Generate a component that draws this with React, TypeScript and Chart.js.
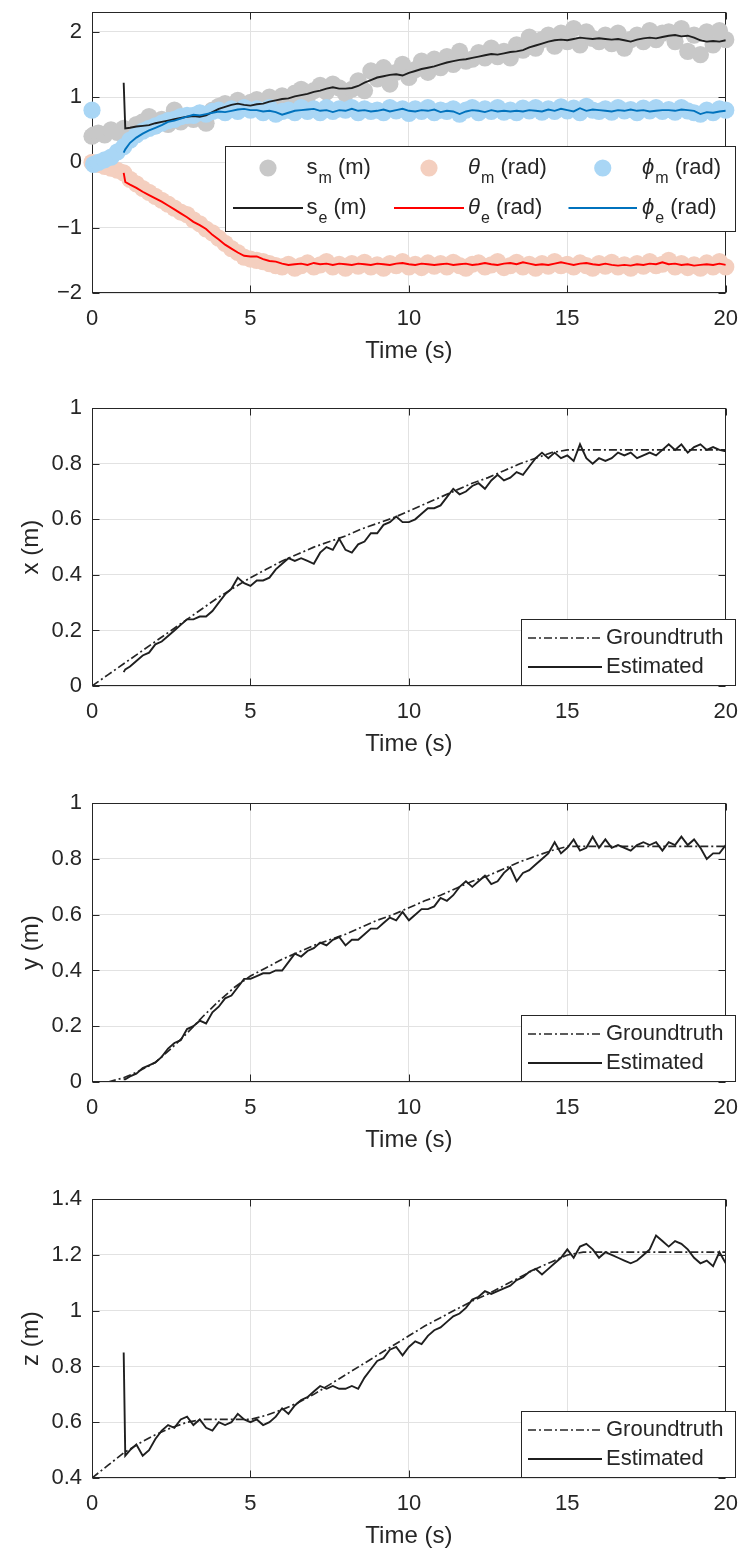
import React, { useEffect, useRef } from 'react';
import { Chart, registerables } from 'chart.js';
Chart.register(...registerables);

const FONT = "'Liberation Sans', Arial, Helvetica, sans-serif";
const INK = '#262626';
const GRID = '#e2e2e2';

// ---------- time grids (x values) ----------
const T_MEAS = [0, 0.05, ...Array.from({ length: 100 }, (_, i) => +(0.2 + 0.2 * i).toFixed(2))];
const T_EST = [1.0, 1.05, ...Array.from({ length: 95 }, (_, i) => +(1.2 + 0.2 * i).toFixed(2))];
const T_GT = Array.from({ length: 41 }, (_, i) => i * 0.5);

const X_TICKS = [0, 5, 10, 15, 20];
const Y1_TICKS = [-2, -1, 0, 1, 2];
const Y2_TICKS = [0, 0.2, 0.4, 0.6, 0.8, 1];
const Y3_TICKS = [0, 0.2, 0.4, 0.6, 0.8, 1];
const Y4_TICKS = [0.4, 0.6, 0.8, 1, 1.2, 1.4];

// ---------- panel 1: measurements ----------
const S_MEAS = [0.40, 0.42,
  0.45, 0.42, 0.50, 0.46, 0.52,
  0.50, 0.58, 0.62, 0.70, 0.56,
  0.66, 0.58, 0.80, 0.62, 0.68,
  0.66, 0.75, 0.60, 0.80, 0.86,
  0.90, 0.82, 0.95, 0.86, 0.92,
  0.96, 0.85, 1.00, 0.92, 1.02,
  0.95, 1.06, 1.12, 1.00, 1.10,
  1.18, 1.08, 1.20, 1.14, 1.05,
  1.12, 1.25, 1.10, 1.40, 1.28,
  1.45, 1.20, 1.38, 1.50, 1.30,
  1.42, 1.55, 1.38, 1.58, 1.45,
  1.62, 1.50, 1.70, 1.55, 1.58,
  1.68, 1.60, 1.75, 1.62, 1.70,
  1.60, 1.80, 1.72, 1.92, 1.75,
  1.88, 1.95, 1.78, 1.98, 1.85,
  2.05, 1.80, 2.00, 1.90, 1.85,
  1.95, 1.82, 1.98, 1.75, 1.88,
  1.95, 1.85, 2.02, 1.88, 1.98,
  2.00, 1.85, 2.05, 1.70, 1.95,
  1.65, 2.00, 1.80, 2.02, 1.88];
const TH_MEAS = [0.00, -0.02,
  -0.03, -0.06, -0.09, -0.12, -0.16,
  -0.26, -0.33, -0.40, -0.46, -0.52,
  -0.58, -0.64, -0.70, -0.76, -0.80,
  -0.88, -0.94, -1.02, -1.08, -1.16,
  -1.24, -1.32, -1.38, -1.45, -1.48,
  -1.50, -1.52, -1.55, -1.58, -1.60,
  -1.56, -1.62, -1.58, -1.54, -1.60,
  -1.57, -1.52, -1.60, -1.56, -1.62,
  -1.55, -1.59, -1.53, -1.60, -1.57,
  -1.62, -1.55, -1.58, -1.52, -1.60,
  -1.56, -1.61, -1.54, -1.59, -1.55,
  -1.60, -1.53, -1.58, -1.62, -1.56,
  -1.54, -1.60, -1.57, -1.52, -1.61,
  -1.58, -1.53, -1.60, -1.56, -1.62,
  -1.55, -1.59, -1.52, -1.58, -1.56,
  -1.60, -1.54, -1.58, -1.62, -1.55,
  -1.59, -1.53, -1.60, -1.57, -1.62,
  -1.55, -1.59, -1.52, -1.58, -1.56,
  -1.50, -1.60, -1.55, -1.61, -1.57,
  -1.62, -1.54, -1.60, -1.52, -1.60];
const PHI_MEAS = [0.80, -0.03,
  0.00, 0.04, 0.08, 0.16, 0.24,
  0.34, 0.42, 0.48, 0.52, 0.56,
  0.60, 0.64, 0.66, 0.70, 0.72,
  0.72, 0.76, 0.74, 0.78, 0.80,
  0.76, 0.82, 0.78, 0.84, 0.80,
  0.82, 0.76, 0.84, 0.74, 0.78,
  0.80, 0.76, 0.84, 0.78, 0.82,
  0.76, 0.84, 0.78, 0.82, 0.80,
  0.84, 0.76, 0.82, 0.78, 0.80,
  0.76, 0.84, 0.79, 0.82, 0.75,
  0.82, 0.78, 0.84, 0.76, 0.80,
  0.78, 0.82, 0.74, 0.80, 0.84,
  0.76, 0.82, 0.78, 0.84, 0.77,
  0.80, 0.76, 0.83, 0.79, 0.84,
  0.77, 0.82, 0.78, 0.85, 0.79,
  0.83, 0.76, 0.86, 0.80, 0.78,
  0.82, 0.77, 0.84, 0.79, 0.81,
  0.76, 0.83, 0.79, 0.84, 0.78,
  0.81, 0.77, 0.84, 0.79, 0.76,
  0.74, 0.80, 0.76, 0.82, 0.80];

// ---------- panel 1: estimates ----------
const S_EST = [1.22, 0.52,
  0.53, 0.55, 0.56, 0.57, 0.60,
  0.62, 0.64, 0.66, 0.68, 0.70,
  0.71, 0.70, 0.72, 0.77, 0.82,
  0.85, 0.88, 0.90, 0.88, 0.87,
  0.89, 0.90, 0.93, 0.95, 0.97,
  0.98, 1.01, 1.03, 1.05, 1.08,
  1.10, 1.13, 1.15, 1.13, 1.13,
  1.14, 1.17, 1.22, 1.26, 1.30,
  1.32, 1.34, 1.35, 1.33, 1.37,
  1.40, 1.43, 1.45, 1.47, 1.50,
  1.53, 1.55, 1.57, 1.58, 1.60,
  1.62, 1.64, 1.66, 1.65, 1.67,
  1.69, 1.70, 1.72, 1.76, 1.79,
  1.82, 1.85, 1.87, 1.88, 1.87,
  1.89, 1.91, 1.90, 1.89, 1.90,
  1.89, 1.88, 1.89, 1.87, 1.85,
  1.88, 1.90, 1.91, 1.90, 1.92,
  1.94, 1.95, 1.93, 1.94, 1.91,
  1.87, 1.85, 1.86, 1.85, 1.87];
const TH_EST = [-0.16, -0.30,
  -0.34, -0.39, -0.45, -0.50, -0.55,
  -0.60, -0.66, -0.72, -0.78, -0.84,
  -0.91, -0.96, -1.02, -1.11, -1.18,
  -1.26, -1.32, -1.38, -1.43, -1.44,
  -1.44, -1.48, -1.51, -1.52, -1.55,
  -1.57, -1.56, -1.55, -1.57, -1.54,
  -1.56, -1.55, -1.57, -1.55, -1.56,
  -1.57, -1.55, -1.56, -1.57, -1.55,
  -1.56, -1.57, -1.55, -1.54, -1.56,
  -1.57, -1.55, -1.56, -1.57, -1.56,
  -1.55, -1.57, -1.56, -1.55, -1.57,
  -1.56, -1.54, -1.56, -1.57, -1.55,
  -1.54, -1.56, -1.53, -1.55, -1.57,
  -1.56, -1.57, -1.55, -1.53, -1.55,
  -1.57, -1.55, -1.54, -1.56, -1.57,
  -1.55, -1.57, -1.58, -1.57, -1.58,
  -1.56, -1.57, -1.55, -1.56, -1.53,
  -1.56, -1.55, -1.57, -1.56, -1.58,
  -1.57, -1.56, -1.57, -1.55, -1.57];
const PHI_EST = [0.15, 0.20,
  0.30, 0.38, 0.44, 0.49, 0.53,
  0.57, 0.62, 0.64, 0.67, 0.70,
  0.73, 0.72, 0.74, 0.76, 0.78,
  0.77, 0.79, 0.81, 0.82, 0.80,
  0.80, 0.78, 0.79, 0.77, 0.73,
  0.76, 0.79, 0.80, 0.81, 0.82,
  0.79, 0.80, 0.77, 0.80, 0.79,
  0.82, 0.79, 0.80, 0.78, 0.79,
  0.81, 0.78, 0.80, 0.82, 0.79,
  0.78, 0.80, 0.79, 0.81, 0.77,
  0.79, 0.78, 0.74, 0.78, 0.80,
  0.79, 0.77, 0.80, 0.78, 0.79,
  0.78, 0.79, 0.78, 0.80, 0.79,
  0.78, 0.81, 0.79, 0.82, 0.80,
  0.78, 0.83, 0.79, 0.81, 0.80,
  0.79, 0.78, 0.80, 0.79, 0.81,
  0.79, 0.80, 0.78, 0.79, 0.80,
  0.80, 0.79, 0.81, 0.80, 0.79,
  0.74, 0.77, 0.76, 0.78, 0.79];

// ---------- panels 2-4 ----------
const X_GT = [0, 0.04, 0.08, 0.12, 0.16, 0.20, 0.24, 0.28, 0.32, 0.355, 0.39, 0.42, 0.45, 0.475, 0.50, 0.52,
  0.54, 0.565, 0.585, 0.605, 0.63, 0.655, 0.68, 0.705, 0.73, 0.75, 0.775, 0.80, 0.82, 0.84, 0.85,
  0.85, 0.85, 0.85, 0.85, 0.85, 0.85, 0.85, 0.85, 0.85, 0.85];
const X_EST = [0.05, 0.06,
  0.07, 0.09, 0.11, 0.12, 0.15,
  0.16, 0.18, 0.20, 0.22, 0.24,
  0.24, 0.25, 0.25, 0.27, 0.30,
  0.33, 0.35, 0.39, 0.37, 0.36,
  0.38, 0.38, 0.39, 0.42, 0.44,
  0.46, 0.45, 0.46, 0.45, 0.44,
  0.48, 0.50, 0.49, 0.53, 0.49,
  0.48, 0.51, 0.52, 0.55, 0.55,
  0.58, 0.59, 0.61, 0.59, 0.59,
  0.60, 0.62, 0.64, 0.64, 0.65,
  0.68, 0.71, 0.69, 0.70, 0.72,
  0.73, 0.71, 0.74, 0.76, 0.74,
  0.75, 0.77, 0.76, 0.79, 0.82,
  0.84, 0.82, 0.84, 0.82, 0.83,
  0.81, 0.87, 0.82, 0.80, 0.82,
  0.81, 0.82, 0.84, 0.83, 0.84,
  0.82, 0.83, 0.84, 0.83, 0.85,
  0.87, 0.85, 0.87, 0.84, 0.86,
  0.87, 0.85, 0.86, 0.85, 0.845];
const Y_GT = [0, 0.0, 0.015, 0.04, 0.07, 0.12, 0.175, 0.235, 0.29, 0.34, 0.38, 0.41, 0.44, 0.465, 0.49, 0.51,
  0.53, 0.555, 0.58, 0.60, 0.625, 0.65, 0.67, 0.695, 0.72, 0.74, 0.765, 0.79, 0.81, 0.83, 0.845,
  0.845, 0.845, 0.845, 0.845, 0.845, 0.845, 0.845, 0.845, 0.845, 0.845];
const Y_EST = [0.01, 0.01,
  0.02, 0.03, 0.05, 0.06, 0.07,
  0.09, 0.12, 0.14, 0.15, 0.19,
  0.20, 0.22, 0.21, 0.25, 0.27,
  0.30, 0.31, 0.34, 0.37, 0.37,
  0.38, 0.39, 0.39, 0.40, 0.40,
  0.43, 0.46, 0.45, 0.47, 0.48,
  0.50, 0.49, 0.51, 0.52, 0.49,
  0.51, 0.51, 0.53, 0.55, 0.55,
  0.57, 0.59, 0.58, 0.61, 0.58,
  0.60, 0.62, 0.62, 0.63, 0.66,
  0.65, 0.67, 0.70, 0.72, 0.70,
  0.72, 0.74, 0.71, 0.72, 0.75,
  0.77, 0.72, 0.75, 0.76, 0.78,
  0.80, 0.82, 0.86, 0.82, 0.84,
  0.87, 0.83, 0.84, 0.88, 0.84,
  0.87, 0.84, 0.85, 0.84, 0.83,
  0.85, 0.86, 0.85, 0.86, 0.83,
  0.86, 0.85, 0.88, 0.85, 0.87,
  0.84, 0.80, 0.82, 0.82, 0.85];
const Z_GT = [0.40, 0.445, 0.49, 0.525, 0.555, 0.58, 0.60, 0.61, 0.61, 0.61, 0.61, 0.625, 0.645, 0.67, 0.70, 0.735,
  0.77, 0.805, 0.84, 0.875, 0.91, 0.945, 0.975, 1.005, 1.035, 1.06, 1.09, 1.12, 1.15, 1.175, 1.20, 1.21,
  1.21, 1.21, 1.21, 1.21, 1.21, 1.21, 1.21, 1.21, 1.21];
const Z_EST = [0.85, 0.48,
  0.50, 0.52, 0.48, 0.50, 0.54,
  0.57, 0.59, 0.58, 0.61, 0.62,
  0.59, 0.61, 0.58, 0.57, 0.60,
  0.59, 0.60, 0.63, 0.61, 0.60,
  0.61, 0.59, 0.60, 0.62, 0.65,
  0.63, 0.66, 0.68, 0.69, 0.71,
  0.73, 0.72, 0.73, 0.72, 0.72,
  0.73, 0.72, 0.76, 0.79, 0.82,
  0.83, 0.86, 0.87, 0.84, 0.87,
  0.89, 0.88, 0.91, 0.93, 0.94,
  0.96, 0.98, 0.99, 1.01, 1.04,
  1.05, 1.07, 1.06, 1.07, 1.08,
  1.09, 1.11, 1.12, 1.14, 1.15,
  1.13, 1.15, 1.17, 1.19, 1.22,
  1.19, 1.23, 1.24, 1.22, 1.19,
  1.21, 1.20, 1.19, 1.18, 1.17,
  1.18, 1.20, 1.22, 1.27, 1.25,
  1.23, 1.25, 1.24, 1.22, 1.19,
  1.17, 1.18, 1.16, 1.21, 1.17];

// ---------- styles & layout ----------
const C_GRAY = '#c8c8c8';
const C_SALMON = '#f4cfbf';
const C_LBLUE = '#a9d6f5';
const C_BLACK = '#1f1f1f';
const C_RED = '#ff0000';
const C_BLUE = '#0072bd';
const DASHDOT = [8, 3, 2, 3];
const MARKER_R = 8.6;
const EST_W = 1.9;
const GT_W = 1.7;

const PLOT_LEFT = 92;
const PLOT_RIGHT = 736;
const PAGE_W = 751;
const PAD_TOP = 22;
const X_AXIS_H = 73;
const TICK_LEN = 7;

const pts = (t: number[], v: number[]) => v.map((y, i) => ({ x: t[i], y }));

const markerDs = (label: string, v: number[], color: string, order: number) => ({
  label, data: pts(T_MEAS, v), showLine: false, pointRadius: MARKER_R, pointHoverRadius: MARKER_R,
  pointBorderWidth: 0, pointBackgroundColor: color, borderColor: color, backgroundColor: color, order, clip: false,
});
const lineDs = (label: string, t: number[], v: number[], color: string, width: number, order: number, dash: number[] = []) => ({
  label, data: pts(t, v), showLine: true, pointRadius: 0, pointHoverRadius: 0, borderColor: color,
  backgroundColor: color, borderWidth: width, borderDash: dash, tension: 0, order, fill: false,
});

type Entry = { kind: 'marker' | 'line'; color: string; dash?: number[]; width?: number; sym: string; italic?: boolean; sub?: string; unit?: string; x0: number; x1: number; tx: number; y: number };
type LegendSpec = { left: number; top: number; right: number; bottom: number; entries: Entry[] };

const gtLegend = (bottom: number): LegendSpec => ({
  left: 521, top: bottom - 67, right: 736, bottom,
  entries: [
    { kind: 'line', color: INK, dash: DASHDOT, width: GT_W, sym: 'Groundtruth', x0: 528, x1: 602, tx: 606, y: bottom - 48 },
    { kind: 'line', color: C_BLACK, width: EST_W, sym: 'Estimated', x0: 528, x1: 602, tx: 606, y: bottom - 19 },
  ],
});

type Spec = { key: string; top: number; bottom: number; yMin: number; yMax: number; yTicks: number[]; yTitle?: string; minus?: boolean; datasets: any[]; legend: LegendSpec };

const SPECS: Spec[] = [
  {
    key: 'p1', top: 11, bottom: 293, yMin: -2, yMax: 2.3, yTicks: Y1_TICKS, minus: true,
    datasets: [
      markerDs('s_m (m)', S_MEAS, C_GRAY, 6),
      markerDs('θ_m (rad)', TH_MEAS, C_SALMON, 5),
      markerDs('ϕ_m (rad)', PHI_MEAS, C_LBLUE, 4),
      lineDs('s_e (m)', T_EST, S_EST, C_BLACK, EST_W, 3),
      lineDs('θ_e (rad)', T_EST, TH_EST, C_RED, EST_W, 2),
      lineDs('ϕ_e (rad)', T_EST, PHI_EST, C_BLUE, EST_W, 1),
    ],
    legend: {
      left: 225, top: 146, right: 736, bottom: 232,
      entries: [
        { kind: 'marker', color: C_GRAY, sym: 's', sub: 'm', unit: ' (m)', x0: 233, x1: 303, tx: 306.5, y: 168 },
        { kind: 'marker', color: C_SALMON, sym: 'θ', italic: true, sub: 'm', unit: ' (rad)', x0: 394, x1: 464, tx: 468, y: 168 },
        { kind: 'marker', color: C_LBLUE, sym: 'ϕ', italic: true, sub: 'm', unit: ' (rad)', x0: 568.5, x1: 637, tx: 642, y: 168 },
        { kind: 'line', color: C_BLACK, width: EST_W, sym: 's', sub: 'e', unit: ' (m)', x0: 233, x1: 303, tx: 306.5, y: 208 },
        { kind: 'line', color: C_RED, width: EST_W, sym: 'θ', italic: true, sub: 'e', unit: ' (rad)', x0: 394, x1: 464, tx: 468, y: 208 },
        { kind: 'line', color: C_BLUE, width: EST_W, sym: 'ϕ', italic: true, sub: 'e', unit: ' (rad)', x0: 568.5, x1: 637, tx: 642, y: 208 },
      ],
    },
  },
  {
    key: 'p2', top: 407, bottom: 686, yMin: 0, yMax: 1, yTicks: Y2_TICKS, yTitle: 'x (m)',
    datasets: [lineDs('Groundtruth', T_GT, X_GT, INK, GT_W, 2, DASHDOT), lineDs('Estimated', T_EST, X_EST, C_BLACK, EST_W, 1)],
    legend: gtLegend(686),
  },
  {
    key: 'p3', top: 802, bottom: 1082, yMin: 0, yMax: 1, yTicks: Y3_TICKS, yTitle: 'y (m)',
    datasets: [lineDs('Groundtruth', T_GT, Y_GT, INK, GT_W, 2, DASHDOT), lineDs('Estimated', T_EST, Y_EST, C_BLACK, EST_W, 1)],
    legend: gtLegend(1082),
  },
  {
    key: 'p4', top: 1198, bottom: 1478, yMin: 0.4, yMax: 1.4, yTicks: Y4_TICKS, yTitle: 'z (m)',
    datasets: [lineDs('Groundtruth', T_GT, Z_GT, INK, GT_W, 2, DASHDOT), lineDs('Estimated', T_EST, Z_EST, C_BLACK, EST_W, 1)],
    legend: gtLegend(1478),
  },
];

const boxPlugin = {
  id: 'matlabBox',
  beforeDatasetsDraw(chart: any) {
    const { ctx, chartArea: a, scales } = chart;
    ctx.save();
    ctx.strokeStyle = INK;
    ctx.lineWidth = 1;
    const L = Math.round(a.left) + 0.5, R = Math.round(a.right) - 0.5;
    const T = Math.round(a.top) + 0.5, B = Math.round(a.bottom) - 0.5;
    ctx.beginPath();
    for (const t of scales.x.ticks) {
      const px = Math.round(scales.x.getPixelForValue(t.value)) + 0.5;
      ctx.moveTo(px, B); ctx.lineTo(px, B - TICK_LEN);
      ctx.moveTo(px, T); ctx.lineTo(px, T + TICK_LEN);
    }
    for (const t of scales.y.ticks) {
      const py = Math.round(scales.y.getPixelForValue(t.value)) + 0.5;
      ctx.moveTo(L, py); ctx.lineTo(L + TICK_LEN, py);
      ctx.moveTo(R, py); ctx.lineTo(R - TICK_LEN, py);
    }
    ctx.stroke();
    ctx.strokeRect(L, T, R - L, B - T);
    ctx.restore();
  },
};

const legendPlugin = {
  id: 'matlabLegend',
  afterDatasetsDraw(chart: any, _args: any, opts: any) {
    const spec: LegendSpec = opts.spec;
    const off: number = opts.offset;
    if (!spec) return;
    const { ctx } = chart;
    ctx.save();
    ctx.fillStyle = '#ffffff';
    ctx.strokeStyle = INK;
    ctx.lineWidth = 1;
    const bl = Math.round(spec.left) + 0.5, bt = Math.round(spec.top - off) + 0.5;
    const bw = Math.round(spec.right - spec.left) - 1, bh = Math.round(spec.bottom - spec.top) - 1;
    ctx.fillRect(bl, bt, bw, bh);
    ctx.strokeRect(bl, bt, bw, bh);
    for (const e of spec.entries) {
      const y = e.y - off;
      if (e.kind === 'marker') {
        ctx.beginPath();
        ctx.fillStyle = e.color;
        ctx.arc((e.x0 + e.x1) / 2, y, MARKER_R, 0, Math.PI * 2);
        ctx.fill();
      } else {
        ctx.beginPath();
        ctx.strokeStyle = e.color;
        ctx.lineWidth = e.width || 1.6;
        ctx.setLineDash(e.dash || []);
        ctx.moveTo(e.x0, y);
        ctx.lineTo(e.x1, y);
        ctx.stroke();
        ctx.setLineDash([]);
      }
      ctx.fillStyle = INK;
      ctx.textAlign = 'left';
      ctx.textBaseline = 'middle';
      let x = e.tx;
      ctx.font = `${e.italic ? 'italic ' : ''}22px ${FONT}`;
      ctx.fillText(e.sym, x, y);
      x += ctx.measureText(e.sym).width;
      if (e.sub) {
        ctx.font = `16px ${FONT}`;
        ctx.fillText(e.sub, x + 1, y + 11);
        x += ctx.measureText(e.sub).width + 1;
      }
      if (e.unit) {
        ctx.font = `22px ${FONT}`;
        ctx.fillText(e.unit, x, y);
      }
    }
    ctx.restore();
  },
};

function Panel({ spec }: { spec: Spec }) {
  const ref = useRef<HTMLCanvasElement>(null);
  const canvasTop = spec.top - PAD_TOP;
  const height = spec.bottom - spec.top + PAD_TOP + X_AXIS_H;
  useEffect(() => {
    const fmt = (v: number) => (spec.minus ? String(v).replace('-', '\u2212') : String(v));
    const chart = new Chart(ref.current as HTMLCanvasElement, {
      type: 'scatter',
      data: { datasets: spec.datasets },
      options: {
        responsive: false,
        animation: false,
        devicePixelRatio: 1,
        events: [],
        layout: { padding: { top: PAD_TOP, left: 0, right: PAGE_W - PLOT_RIGHT, bottom: 0 } },
        plugins: {
          legend: { display: false },
          tooltip: { enabled: false },
          matlabLegend: { spec: spec.legend, offset: canvasTop },
        } as any,
        scales: {
          x: {
            type: 'linear', min: 0, max: 20,
            afterBuildTicks: (s: any) => { s.ticks = X_TICKS.map((value) => ({ value })); },
            afterFit: (s: any) => { s.height = X_AXIS_H; },
            grid: { color: GRID, lineWidth: 1, drawTicks: false },
            border: { display: false },
            ticks: { padding: 13, color: INK, font: { family: FONT, size: 22 }, maxRotation: 0, autoSkip: false, callback: (v: any) => String(v) },
            title: { display: true, text: 'Time (s)', color: INK, font: { family: FONT, size: 24 }, padding: 0 },
          },
          y: {
            type: 'linear', min: spec.yMin, max: spec.yMax,
            afterBuildTicks: (s: any) => { s.ticks = spec.yTicks.map((value) => ({ value })); },
            afterFit: (s: any) => { s.width = PLOT_LEFT; },
            grid: { color: GRID, lineWidth: 1, drawTicks: false },
            border: { display: false },
            ticks: { padding: 10, color: INK, font: { family: FONT, size: 22 }, autoSkip: false, callback: (v: any) => fmt(v) },
            title: { display: !!spec.yTitle, text: spec.yTitle || '', color: INK, font: { family: FONT, size: 24 }, padding: { top: 17, bottom: 0 } },
          },
        },
      } as any,
      plugins: [boxPlugin, legendPlugin],
    });
    return () => chart.destroy();
  }, []);
  return (
    <canvas
      ref={ref}
      width={PAGE_W}
      height={height}
      style={{ position: 'absolute', left: 0, top: canvasTop, width: PAGE_W, height }}
    />
  );
}

export default function App() {
  return (
    <div style={{ position: 'absolute', left: 0, top: 0, width: PAGE_W, height: 1553, background: '#ffffff', overflow: 'hidden' }}>
      {SPECS.map((s) => (
        <Panel key={s.key} spec={s} />
      ))}
    </div>
  );
}
